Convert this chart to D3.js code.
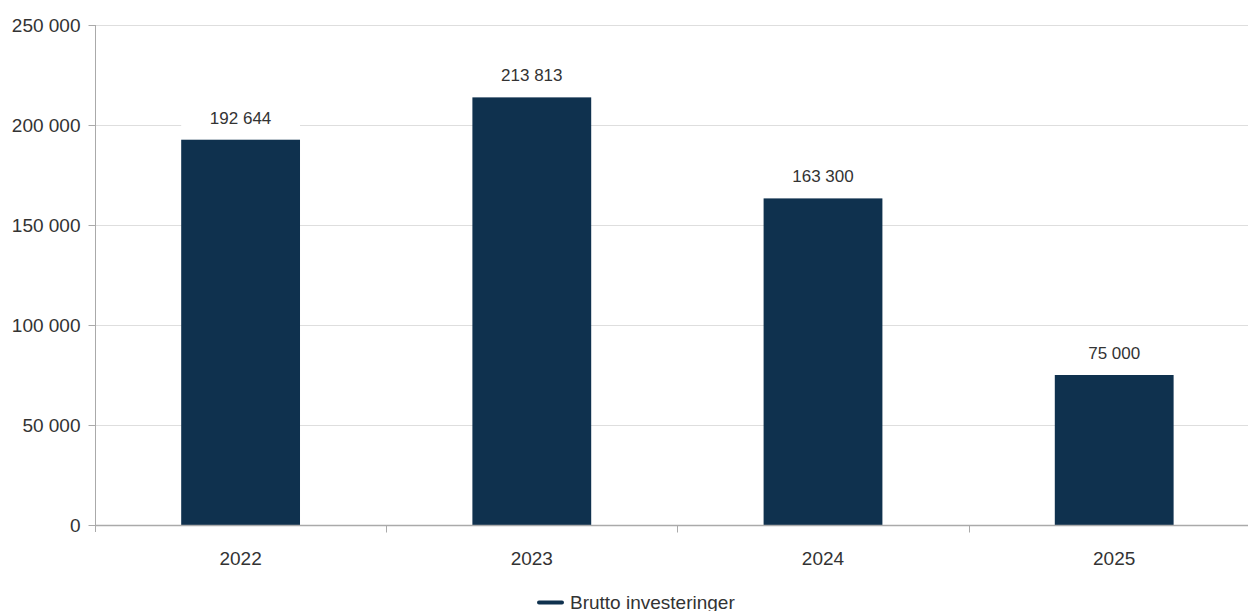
<!DOCTYPE html>
<html><head><meta charset="utf-8">
<script src="https://cdn.jsdelivr.net/npm/d3@7"></script>
<style>body{margin:0;background:#fff}svg{display:block}text{font-family:"Liberation Sans",Arial,sans-serif}</style>
</head><body>
<svg id="c" width="1248" height="611"></svg>
<script>
const categories = ["2022","2023","2024","2025"];
const values = [192644, 213813, 163300, 75000];
const yTicks = [0, 50000, 100000, 150000, 200000, 250000];
const seriesName = "Brutto investeringer";

const W = 1248, H = 611;
const m = {left: 95, top: 25, bottom: 86};
const svg = d3.select("#c");
const fmt = v => d3.format(",")(v).replace(/,/g, " ");

const x = d3.scaleBand().domain(categories).range([m.left, m.left + 4*291.2]).paddingInner(0.592).paddingOuter(0.296);
const y = d3.scaleLinear().domain([0, 250000]).range([H - m.bottom, m.top]);

// grid
svg.append("g").selectAll("line").data(yTicks.filter(d=>d>0)).join("line")
  .attr("x1", m.left).attr("x2", W).attr("y1", d=>Math.round(y(d))+0.5).attr("y2", d=>Math.round(y(d))+0.5)
  .attr("stroke", "#dedede").attr("stroke-width", 1);

// bars
svg.append("g").selectAll("rect").data(values).join("rect")
  .attr("x", (d,i)=>x(categories[i])).attr("width", x.bandwidth())
  .attr("y", d=>y(d)).attr("height", d=>y(0)-y(d))
  .attr("fill", "#0f314e");

// label backgrounds + labels
const lg = svg.append("g");
lg.selectAll("rect").data(values).join("rect")
  .attr("x", (d,i)=>x(categories[i])).attr("width", x.bandwidth())
  .attr("y", d=>y(d)-34).attr("height", 22).attr("fill", "#fff");
lg.selectAll("text").data(values).join("text")
  .attr("x", (d,i)=>x(categories[i]) + x.bandwidth()/2)
  .attr("y", d=>y(d)-16)
  .attr("text-anchor", "middle").attr("font-size", "17px").attr("fill", "#333")
  .text(d=>fmt(d));

// y axis
const ya = svg.append("g").attr("transform", `translate(${m.left+0.5},0)`)
  .call(d3.axisLeft(y).tickValues(yTicks).tickFormat(fmt).tickSize(7).tickPadding(8));
ya.select(".domain").attr("stroke", "#aaa").attr("d", `M0,${m.top}V${y(0)+7}`);
ya.selectAll(".tick line").attr("stroke", "#aaa");
ya.selectAll(".tick text").attr("font-size", "19px").attr("fill", "#333").attr("font-family", '"Liberation Sans",Arial,sans-serif');

// x axis
const step = x.step();
const xa = svg.append("g").attr("transform", `translate(0,${Math.round(y(0))+0.5})`);
xa.append("line").attr("x1", m.left).attr("x2", W).attr("stroke", "#aaa").attr("stroke-width", 1.5);
xa.selectAll("line.t").data(d3.range(1, categories.length)).join("line").attr("class","t")
  .attr("x1", i=>Math.round(m.left + i*step)+0.5).attr("x2", i=>Math.round(m.left + i*step)+0.5)
  .attr("y1", 0).attr("y2", 7).attr("stroke", "#aaa");
xa.selectAll("text").data(categories).join("text")
  .attr("x", d=>x(d)+x.bandwidth()/2).attr("y", 39)
  .attr("text-anchor", "middle").attr("font-size", "19px").attr("fill", "#333").text(d=>d);

// legend
const leg = svg.append("g");
leg.append("line").attr("x1", 539).attr("x2", 562).attr("y1", 602.5).attr("y2", 602.5)
  .attr("stroke", "#0f314e").attr("stroke-width", 4).attr("stroke-linecap", "round");
leg.append("text").attr("x", 570).attr("y", 609).attr("font-size", "19px").attr("fill", "#333").text(seriesName);
</script>
</body></html>
